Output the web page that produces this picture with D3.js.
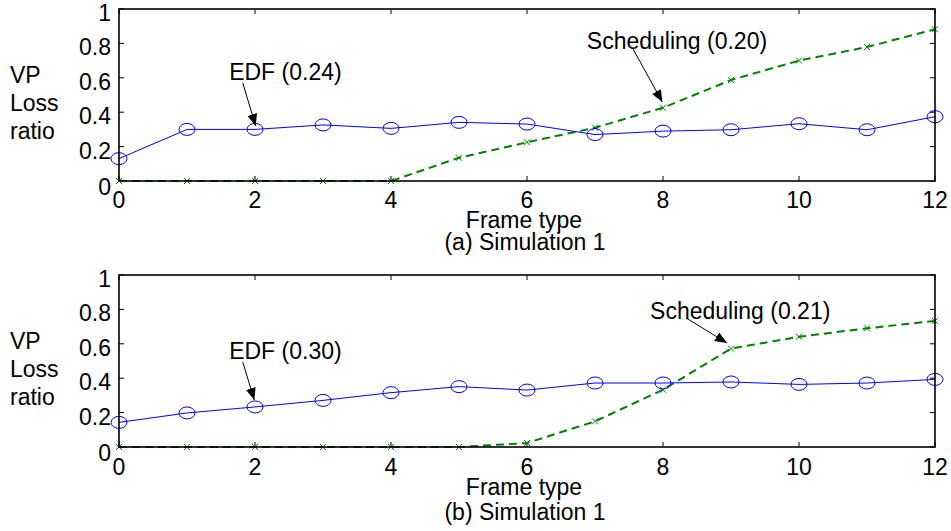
<!DOCTYPE html>
<html>
<head>
<meta charset="utf-8">
<script src="https://cdn.jsdelivr.net/npm/d3@7"></script>
<style>
  body { margin: 0; background: #fff; }
  svg { display: block; font-family: Arial, "Liberation Sans", sans-serif; }
</style>
</head>
<body>
<svg id="chart" width="951" height="531"></svg>
<script>
// frame types on the x axis
var frames = [0, 1, 2, 3, 4, 5, 6, 7, 8, 9, 10, 11, 12];
var xTicks = [0, 2, 4, 6, 8, 10, 12];
var yTicks = [0, 0.2, 0.4, 0.6, 0.8, 1];
var yTickLabels = ["0", "0.2", "0.4", "0.6", "0.8", "1"];

// (a) simulation 1
var edfA = [0.13, 0.30, 0.30, 0.326, 0.306, 0.341, 0.331, 0.27, 0.29, 0.298, 0.333, 0.298, 0.374];
var schedA = [0, 0, 0, 0, 0, 0.135, 0.225, 0.31, 0.426, 0.587, 0.70, 0.779, 0.882];
// (b) simulation 1
var edfB = [0.143, 0.198, 0.233, 0.271, 0.316, 0.351, 0.331, 0.372, 0.372, 0.378, 0.364, 0.372, 0.393];
var schedB = [0, 0, 0, 0, 0, 0, 0.023, 0.149, 0.333, 0.572, 0.641, 0.69, 0.733];

var captions = ["(a) Simulation 1", "(b) Simulation 1"];
var xTitle = "Frame type";
var yTitle = ["VP", "Loss", "ratio"];
var edfLabels = ["EDF (0.24)", "EDF (0.30)"];
var schedLabels = ["Scheduling (0.20)", "Scheduling (0.21)"];

var svg = d3.select("#chart");
var FONT = 23;
var margin = {left: 119, right: 16};
var plotW = 951 - margin.left - margin.right;
var plotH = 172;

svg.append("defs").append("marker")
  .attr("id", "head")
  .attr("viewBox", "0 0 12 10")
  .attr("refX", 12).attr("refY", 5)
  .attr("markerWidth", 12).attr("markerHeight", 10)
  .attr("markerUnits", "userSpaceOnUse")
  .attr("orient", "auto")
  .append("path").attr("d", "M0,0 L12,5 L0,10 Z").attr("fill", "#000");

function drawPanel(top, edf, sched, opts) {
  var g = svg.append("g").attr("transform", "translate(" + margin.left + "," + top + ")");
  var x = d3.scaleLinear().domain([0, 12]).range([0, plotW]);
  var y = d3.scaleLinear().domain([0, 1]).range([plotH, 0]);

  // inward ticks on all four sides
  g.selectAll("line.xt").data(xTicks).enter().append("line")
    .attr("x1", d => x(d)).attr("x2", d => x(d)).attr("y1", plotH).attr("y2", plotH - 5)
    .attr("stroke", "#000");
  g.selectAll("line.xtt").data(xTicks).enter().append("line")
    .attr("x1", d => x(d)).attr("x2", d => x(d)).attr("y1", 0).attr("y2", 5)
    .attr("stroke", "#000");
  g.selectAll("line.yt").data(yTicks).enter().append("line")
    .attr("x1", 0).attr("x2", 5).attr("y1", d => y(d)).attr("y2", d => y(d))
    .attr("stroke", "#000");
  g.selectAll("line.ytr").data(yTicks).enter().append("line")
    .attr("x1", plotW).attr("x2", plotW - 5).attr("y1", d => y(d)).attr("y2", d => y(d))
    .attr("stroke", "#000");

  g.selectAll("text.xl").data(xTicks).enter().append("text")
    .attr("x", d => x(d)).attr("y", plotH + opts.tickBase)
    .attr("text-anchor", "middle").attr("font-size", FONT).text(d => d);
  g.selectAll("text.yl").data(yTicks).enter().append("text")
    .attr("x", -8).attr("y", d => y(d) + (d === 0 ? 14 : 12))
    .attr("text-anchor", "end").attr("font-size", FONT)
    .text((d, i) => yTickLabels[i]);

  g.append("text").attr("x", plotW / 2 - 3).attr("y", plotH + opts.titleBase)
    .attr("text-anchor", "middle").attr("font-size", FONT).text(xTitle);
  g.append("text").attr("x", plotW / 2 - 2).attr("y", plotH + opts.capBase)
    .attr("text-anchor", "middle").attr("font-size", FONT).text(opts.caption);

  svg.selectAll(null).data(yTitle).enter().append("text")
    .attr("x", 10).attr("y", (d, i) => top + 74 + i * 28)
    .attr("font-size", FONT).text(d => d);

  // series
  var line = d3.line().x((d, i) => x(frames[i])).y(d => y(d));
  g.append("path").datum(sched).attr("d", line)
    .attr("fill", "none").attr("stroke", "#008000").attr("stroke-width", 2)
    .attr("stroke-dasharray", "8,5");
  g.selectAll("path.xm").data(sched).enter().append("path")
    .attr("d", (d, i) => {
      var cx = x(frames[i]), cy = y(d), s = 3;
      return "M" + (cx - s) + "," + (cy - s) + "L" + (cx + s) + "," + (cy + s) +
             "M" + (cx - s) + "," + (cy + s) + "L" + (cx + s) + "," + (cy - s);
    })
    .attr("stroke", "#008000").attr("stroke-width", 1);

  g.append("path").datum(edf).attr("d", line)
    .attr("fill", "none").attr("stroke", "#0000ff").attr("stroke-width", 1);
  g.selectAll("ellipse").data(edf).enter().append("ellipse")
    .attr("cx", (d, i) => x(frames[i])).attr("cy", d => y(d))
    .attr("rx", 8).attr("ry", 6)
    .attr("fill", "none").attr("stroke", "#0000ff").attr("stroke-width", 1);

  // frame
  g.append("rect").attr("width", plotW).attr("height", plotH)
    .attr("fill", "none").attr("stroke", "#000").attr("stroke-width", 1.6);

  // annotations
  opts.notes.forEach(function(n) {
    g.append("text").attr("x", x(n.tx)).attr("y", y(n.ty))
      .attr("font-size", FONT).text(n.text);
    g.append("line")
      .attr("x1", x(n.ax[0])).attr("y1", y(n.ay[0]))
      .attr("x2", x(n.ax[1])).attr("y2", y(n.ay[1]))
      .attr("stroke", "#000").attr("stroke-width", 1)
      .attr("marker-end", "url(#head)");
  });
}

drawPanel(9, edfA, schedA, {
  tickBase: 27, titleBase: 47, capBase: 69, caption: captions[0],
  notes: [
    {text: edfLabels[0], tx: 1.62, ty: 0.587, ax: [1.82, 2.01], ay: [0.57, 0.32]},
    {text: schedLabels[0], tx: 6.88, ty: 0.767, ax: [7.56, 7.99], ay: [0.767, 0.459]}
  ]
});
drawPanel(275, edfB, schedB, {
  tickBase: 28, titleBase: 48, capBase: 73, caption: captions[1],
  notes: [
    {text: edfLabels[1], tx: 1.62, ty: 0.512, ax: [1.82, 1.99], ay: [0.494, 0.273]},
    {text: schedLabels[1], tx: 7.81, ty: 0.744, ax: [8.34, 8.94], ay: [0.75, 0.605]}
  ]
});
</script>
</body>
</html>
